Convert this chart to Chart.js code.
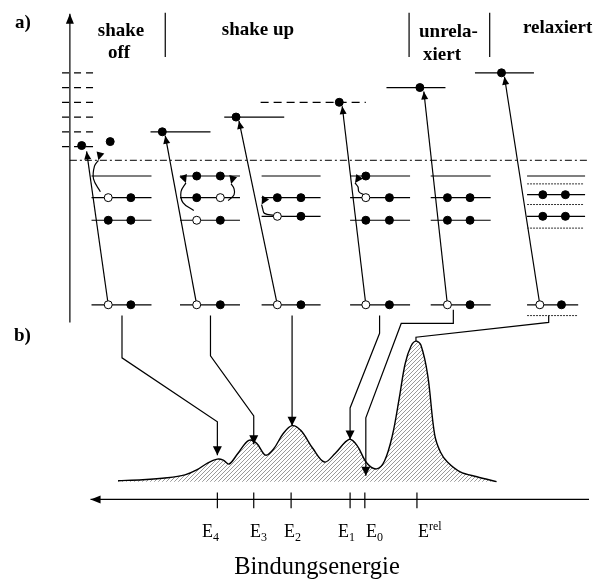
<!DOCTYPE html>
<html lang="de">
<head>
<meta charset="UTF-8">
<title>Shake off / Shake up – Bindungsenergie</title>
<script src="https://cdn.jsdelivr.net/npm/chart.js"></script>
<style>
  body { margin: 0; background: #fff; }
  canvas { display: block; }
</style>
</head>
<body>
<canvas id="diagramm" width="594" height="584"></canvas>
<script>
// ---------- a) Termschema ----------
const spalten = ['shake off', 'shake up', 'shake up', 'shake up', 'unrelaxiert', 'relaxiert'];
const niveauVon = [88, 178, 261, 351, 433, 531];
const niveauBis = [149, 239, 321, 412, 494, 590];
const niveaus = [
  [174, 196, 219, 305],
  [174, 196, 219, 305],
  [174, 196, 215, 305],
  [174, 196, 219, 305],
  [174, 196, 219, 305],
  [174, 193, 215, 305]
];
// f = Elektron, o = Loch, - = leer
const besetzung = [
  ['--', 'of', 'ff', 'of'],
  ['ff', 'fo', 'of', 'of'],
  ['--', 'ff', 'of', 'of'],
  ['f-', 'of', 'ff', 'of'],
  ['--', 'ff', 'ff', 'of'],
  ['--', 'ff', 'ff', 'of']
];
const plaetze = [[105, 128], [195, 219], [277, 301], [367, 391], [450, 473], [547, 570]];
const plaetzeUnten = [[105, 128], [195, 219], [277, 301], [367, 391], [450, 473], [544, 566]];
const relaxiertPunktiert = [182, 203, 227, 316];

// angeregte Elektronen (Endzustand)
const angeregt = [[78, 143], [107, 139], [160, 129], [235, 114], [340, 99], [422, 84], [505, 69]];
const endNiveausDurch = [[148, 209, 129], [223, 284, 114], [388, 448, 84], [478, 538, 69]];
const endNiveausGestr = [[260, 367, 99]];
const kontinuum = [69, 84, 99, 114, 129, 144];
const vakuum = 158;

// Anregung: vom Rumpfniveau nach oben
const anregung = [
  [[105, 305], [83, 149]],
  [[195, 305], [163, 133]],
  [[277, 305], [238, 118]],
  [[367, 305], [343, 103]],
  [[450, 305], [426, 88]],
  [[544, 305], [508, 73]]
];
// Umordnung (gebogene Pfeile) mit Winkel der Pfeilspitze
const umordnung = [
  { p: [[97, 190], [90, 177], [91, 164], [95, 158]], w: 105 },
  { p: [[192, 209], [181, 201], [179, 190], [184, 181]], w: 70 },
  { p: [[227, 199], [233, 193], [233, 187], [230, 182]], w: 105 },
  { p: [[274, 214], [264, 212], [262, 207], [261, 203]], w: 120 },
  { p: [[365, 193], [360, 190], [359, 185], [356, 181]], w: 125 }
];

// ---------- b) Spektrum ----------
const verbindung = [
  [[119, 316], [119, 359], [216, 424], [216, 458]],
  [[209, 316], [209, 357], [253, 418], [253, 447]],
  [[292, 316], [292, 428]],
  [[381, 316], [381, 334], [351, 410], [351, 442]],
  [[456, 310], [456, 324], [403, 324], [367, 420], [367, 479]]
];
const verbindungRel = [[553, 316], [553, 323], [418, 338], [418, 342]];

const spektrum = [
  [115, 484], [140, 483], [165, 481], [183, 478], [195, 473], [206, 466], [216, 462],
  [222, 463], [228, 467], [237, 456], [248, 443], [256, 446], [265, 458], [273, 452],
  [283, 436], [292, 428], [301, 433], [313, 451], [325, 465], [336, 456], [350, 442],
  [358, 448], [368, 466], [378, 472], [386, 464], [394, 438], [401, 400], [407, 365],
  [413, 347], [418, 342], [423, 346], [430, 377], [437, 437], [443, 455], [450, 465],
  [463, 475], [480, 480], [500, 485]
];

const energieWerte = [216, 253, 291, 351, 366, 419];
const energieNamen = [['E', '4', 'sub'], ['E', '3', 'sub'], ['E', '2', 'sub'], ['E', '1', 'sub'], ['E', '0', 'sub'], ['E', 'rel', 'sup']];
const achseY = 503;

// ---------- Datensätze ----------
function linie(punkte, extra) {
  return Object.assign({
    data: punkte.map(p => ({ x: p[0], y: p[1] })),
    showLine: true, pointRadius: 0, borderColor: '#000', borderWidth: 1.2,
    fill: false, order: 1
  }, extra || {});
}

const datasets = [];

// Elektronen / Löcher
const elektronen = [], fuellung = [];
besetzung.forEach((spalte, s) => {
  spalte.forEach((b, n) => {
    const xs = n === 3 ? plaetzeUnten[s] : plaetze[s];
    [0, 1].forEach(k => {
      if (b[k] === '-') return;
      elektronen.push({ x: xs[k], y: niveaus[s][n] });
      fuellung.push(b[k] === 'f' ? '#000' : '#fff');
    });
  });
});
angeregt.forEach(p => { elektronen.push({ x: p[0], y: p[1] }); fuellung.push('#000'); });
datasets.push({
  data: elektronen, showLine: false, pointRadius: 4, pointBackgroundColor: fuellung,
  pointBorderColor: '#000', pointBorderWidth: 1, order: 0
});

// Niveaus
niveaus.forEach((ys, s) => ys.forEach((y, n) => {
  const bis = (s === 5 && n === 3) ? 583 : niveauBis[s];
  datasets.push(linie([[niveauVon[s], y], [bis, y]]));
}));
relaxiertPunktiert.forEach(y => datasets.push(linie([[531, y], [y > 300 ? 582 : 588, y]], { borderDash: [2, 1], borderWidth: 1, borderColor: '#333' })));
endNiveausDurch.forEach(l => datasets.push(linie([[l[0], l[2]], [l[1], l[2]]])));
endNiveausGestr.forEach(l => datasets.push(linie([[l[0], l[2]], [l[1], l[2]]], { borderDash: [8, 5] })));
kontinuum.forEach(y => datasets.push(linie([[58, y], [90, y]], { borderDash: [7, 5] })));
datasets.push(linie([[66, vakuum], [594, vakuum]], { borderDash: [7, 3, 2, 3], borderWidth: 1 }));

// Achse a)
datasets.push(linie([[66, 323], [66, 9]], { pfeil: { l: 10, b: 4 } }));
// Trennstriche der Überschriften
[163, 411, 493].forEach(x => datasets.push(linie([[x, 8], [x, 53]])));

anregung.forEach(a => datasets.push(linie(a, { pfeil: { l: 8, b: 3.5 } })));
umordnung.forEach(u => datasets.push(linie(u.p, { tension: 0.4, pfeil: { l: 8, b: 4, w: u.w } })));

verbindung.forEach(v => datasets.push(linie(v, { pfeil: { l: 9, b: 4.5 } })));
datasets.push(linie(verbindungRel));

// Energieachse
datasets.push(linie([[594, achseY], [87, achseY]], { pfeil: { l: 10, b: 4 } }));
energieWerte.forEach(x => datasets.push(linie([[x, achseY - 7], [x, achseY + 9]])));

// Spektrum mit Schraffur
const pc = document.createElement('canvas');
pc.width = 4; pc.height = 4;
const g = pc.getContext('2d');
g.strokeStyle = '#9a9a9a'; g.lineWidth = 1;
g.beginPath();
g.moveTo(0, 4); g.lineTo(4, 0);
g.moveTo(-1, 1); g.lineTo(1, -1);
g.moveTo(3, 5); g.lineTo(5, 3);
g.stroke();
const ctx = document.getElementById('diagramm').getContext('2d');
const schraffur = ctx.createPattern(pc, 'repeat');
datasets.push(linie(spektrum, {
  borderWidth: 1.4, tension: 0.35, fill: { value: 485 }, backgroundColor: schraffur, order: 2
}));

// ---------- Plugins ----------
const pfeilPlugin = {
  id: 'pfeile',
  afterDatasetsDraw(chart) {
    const c = chart.ctx;
    chart.data.datasets.forEach((ds, i) => {
      if (!ds.pfeil) return;
      const pts = chart.getDatasetMeta(i).data;
      const p = pts[pts.length - 1], q = pts[pts.length - 2];
      const a = ds.pfeil.w !== undefined ? ds.pfeil.w * Math.PI / 180 : Math.atan2(p.y - q.y, p.x - q.x);
      const l = ds.pfeil.l, b = ds.pfeil.b;
      c.save();
      c.fillStyle = '#000';
      c.translate(p.x, p.y);
      c.rotate(a);
      c.beginPath();
      c.moveTo(0, 0);
      c.lineTo(-l, -b);
      c.lineTo(-l, b);
      c.closePath();
      c.fill();
      c.restore();
    });
  }
};

const textPlugin = {
  id: 'texte',
  afterDraw(chart) {
    const c = chart.ctx;
    c.save();
    c.fillStyle = '#000';
    c.textBaseline = 'alphabetic';
    c.font = 'bold 19px "Liberation Serif"';
    c.textAlign = 'left';
    c.fillText('a)', 15, 28);
    c.fillText('b)', 14, 341);
    c.textAlign = 'center';
    c.fillText('shake', 121, 36);
    c.fillText('off', 119, 58);
    c.fillText('shake up', 258, 35);
    c.textAlign = 'left';
    c.fillText('unrela-', 419, 37);
    c.fillText('xiert', 423, 60);
    c.fillText('relaxiert', 523, 33);

    const links = [202, 250, 284, 338, 366, 418];
    energieNamen.forEach((e, i) => {
      c.font = '18px "Liberation Serif"';
      const x = links[i];
      c.fillText(e[0], x, 537);
      const w = c.measureText(e[0]).width;
      c.font = '12px "Liberation Serif"';
      c.fillText(e[1], x + w, e[2] === 'sub' ? 541 : 530);
    });
    c.font = '24.5px "Liberation Serif"';
    c.textAlign = 'center';
    c.fillText('Bindungsenergie', 317, 574);
    c.restore();
  }
};

new Chart(ctx, {
  type: 'scatter',
  data: { datasets },
  options: {
    responsive: false,
    animation: false,
    events: [],
    layout: { padding: 0 },
    plugins: { legend: { display: false }, tooltip: { enabled: false } },
    scales: {
      x: { type: 'linear', min: 0, max: 594, display: false },
      y: { type: 'linear', min: 0, max: 584, reverse: true, display: false }
    }
  },
  plugins: [pfeilPlugin, textPlugin]
});
</script>
</body>
</html>
